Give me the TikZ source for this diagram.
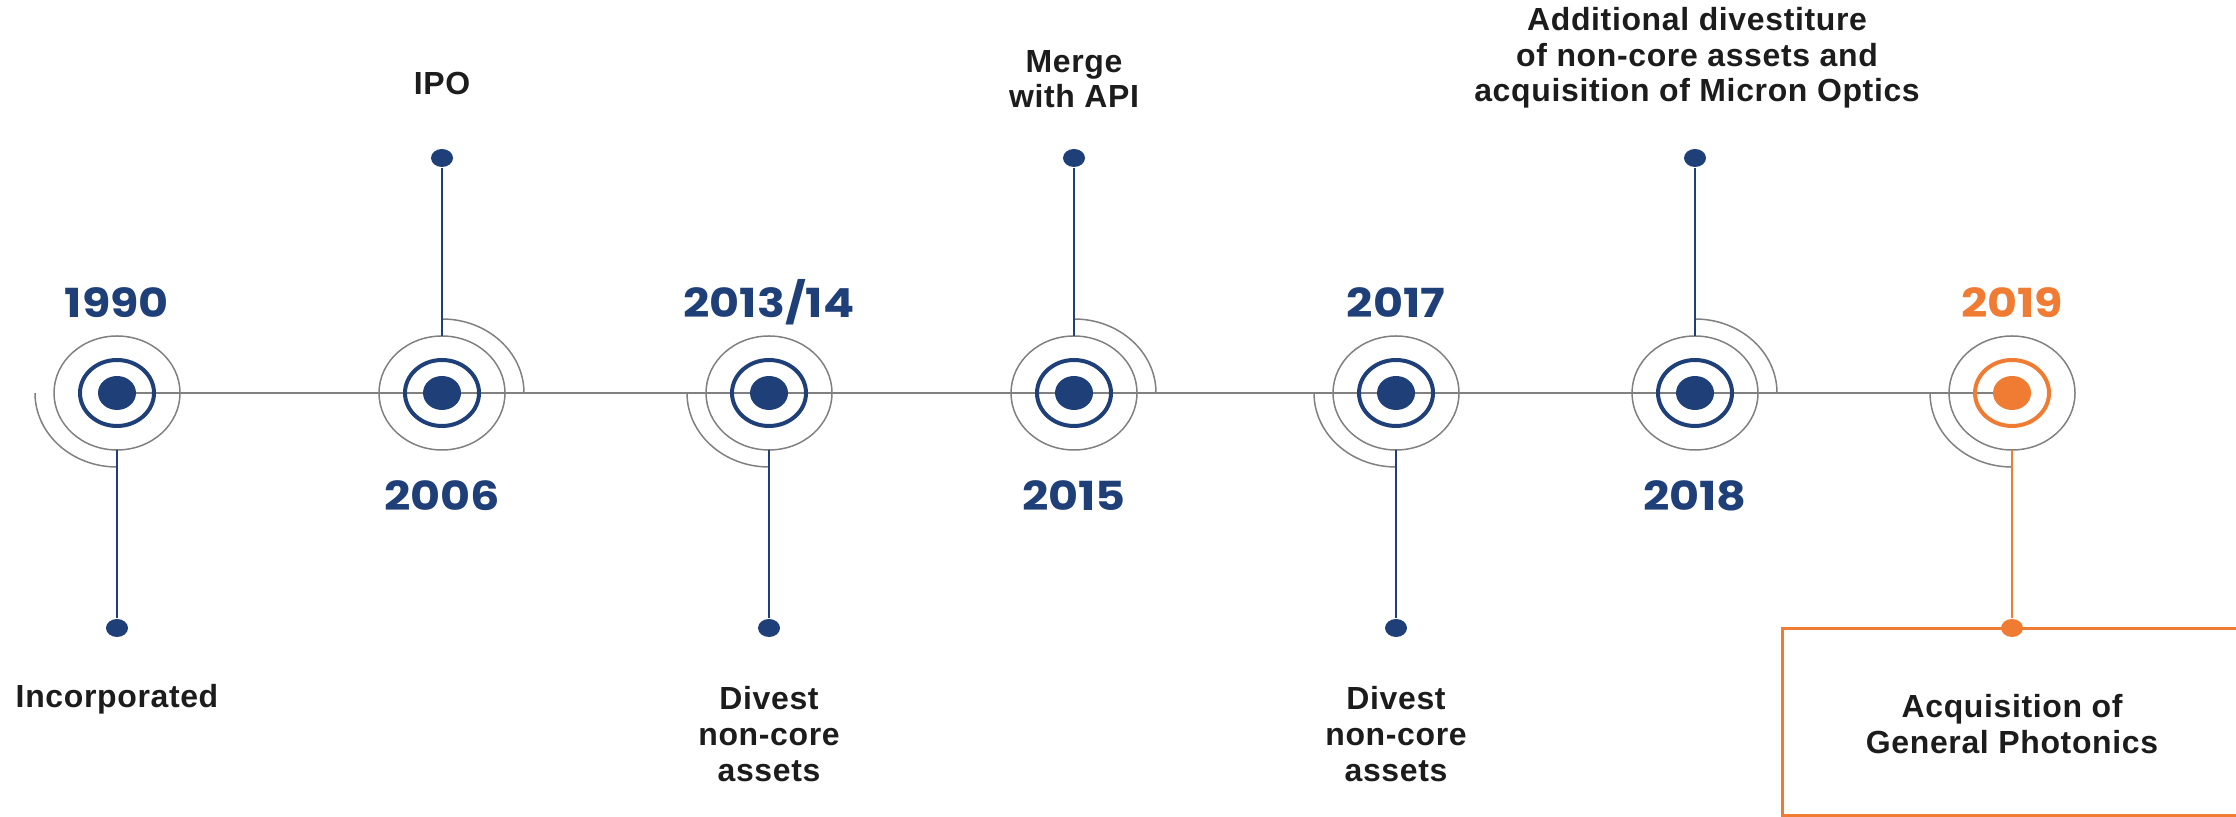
\documentclass[tikz,border=0pt]{standalone}
\usepackage{fontspec}
\setmainfont{Liberation Sans}[LetterSpace=2]
\newfontfamily\yearfont{Poppins}[FakeStretch=1.15]
\usetikzlibrary{shapes.geometric}
\definecolor{navy}{RGB}{30,63,120}
\definecolor{cam}{RGB}{240,124,52}
\definecolor{xam}{RGB}{128,128,128}
\definecolor{chu}{RGB}{28,28,28}

\begin{document}
\begin{tikzpicture}[x=0.1mm, y=0.1mm,
    thin line/.style={draw=xam, line width=0.15mm},
    halo/.style={ellipse, thin line, minimum width=12.6mm, minimum height=11.4mm, inner sep=0pt, outer sep=0pt},
    ring/.style={ellipse, line width=0.4mm, minimum width=7.4mm, minimum height=6.6mm, inner sep=0pt},
    core/.style={ellipse, minimum width=3.8mm, minimum height=3.4mm, inner sep=0pt},
    pin/.style={ellipse, minimum width=2.2mm, minimum height=1.8mm, inner sep=0pt},
    year/.style={font=\yearfont\bfseries\fontsize{11.4}{12}\selectfont, anchor=base, inner sep=0pt},
    event/.style={font=\bfseries\fontsize{9.1}{10.2}\selectfont, text=chu, align=center, anchor=base, inner sep=0pt}]
    \useasboundingbox (0,-424) rectangle (2236,393);
    \clip (0,-424) rectangle (2236,393);

    % 1. Trục thời gian
    \draw[thin line] (117,0) -- (2012,0);

    % 2. Khung cho mốc 2019
    \draw[cam, line width=0.3mm] (1782,-236) rectangle (2260,-422);

    % 3. Các mốc: vị trí / năm / hướng (1 = lên, -1 = xuống) / màu
    \foreach \x/\yr/\s/\col [count=\i] in {117/1990/-1/navy, 442/2006/1/navy,
        769/{2013/14}/-1/navy, 1074/2015/1/navy, 1396/2017/-1/navy,
        1695/2018/1/navy, 2012/2019/-1/cam}{
        \node[halo] (o\i) at (\x,0) {};
        \node[ring, draw=\col] (r\i) at (\x,0) {};
        \node[core, fill=\col] (c\i) at (\x,0) {};
        \draw[thin line] (\x+\s*82,0) arc[start angle=90-90*\s, end angle=180-90*\s, x radius=82, y radius=74];
        \node[pin, fill=\col] (d\i) at (\x,\s*235) {};
        \draw[\col, line width=0.2mm] (o\i) -- (d\i);
        \node[year, text=\col] (y\i) at (\x,-96.5*\s-21.5) {\yr};
    }

    % 4. Nhãn sự kiện (base = dòng cuối)
    \node[event] (e1) at (117,-315) {Incorporated};
    \node[event] (e2) at (442,298) {IPO};
    \node[event] (e3) at (769,-388) {Divest\\non-core\\assets};
    \node[event] (e4) at (1074,285) {Merge\\with API};
    \node[event] (e5) at (1396,-388) {Divest\\non-core\\assets};
    \node[event] (e6) at (1697,291) {Additional divestiture\\of non-core assets and\\acquisition of Micron Optics};
    \node[event] (e7) at (2012,-360) {Acquisition of\\General Photonics};

\end{tikzpicture}
\end{document}
